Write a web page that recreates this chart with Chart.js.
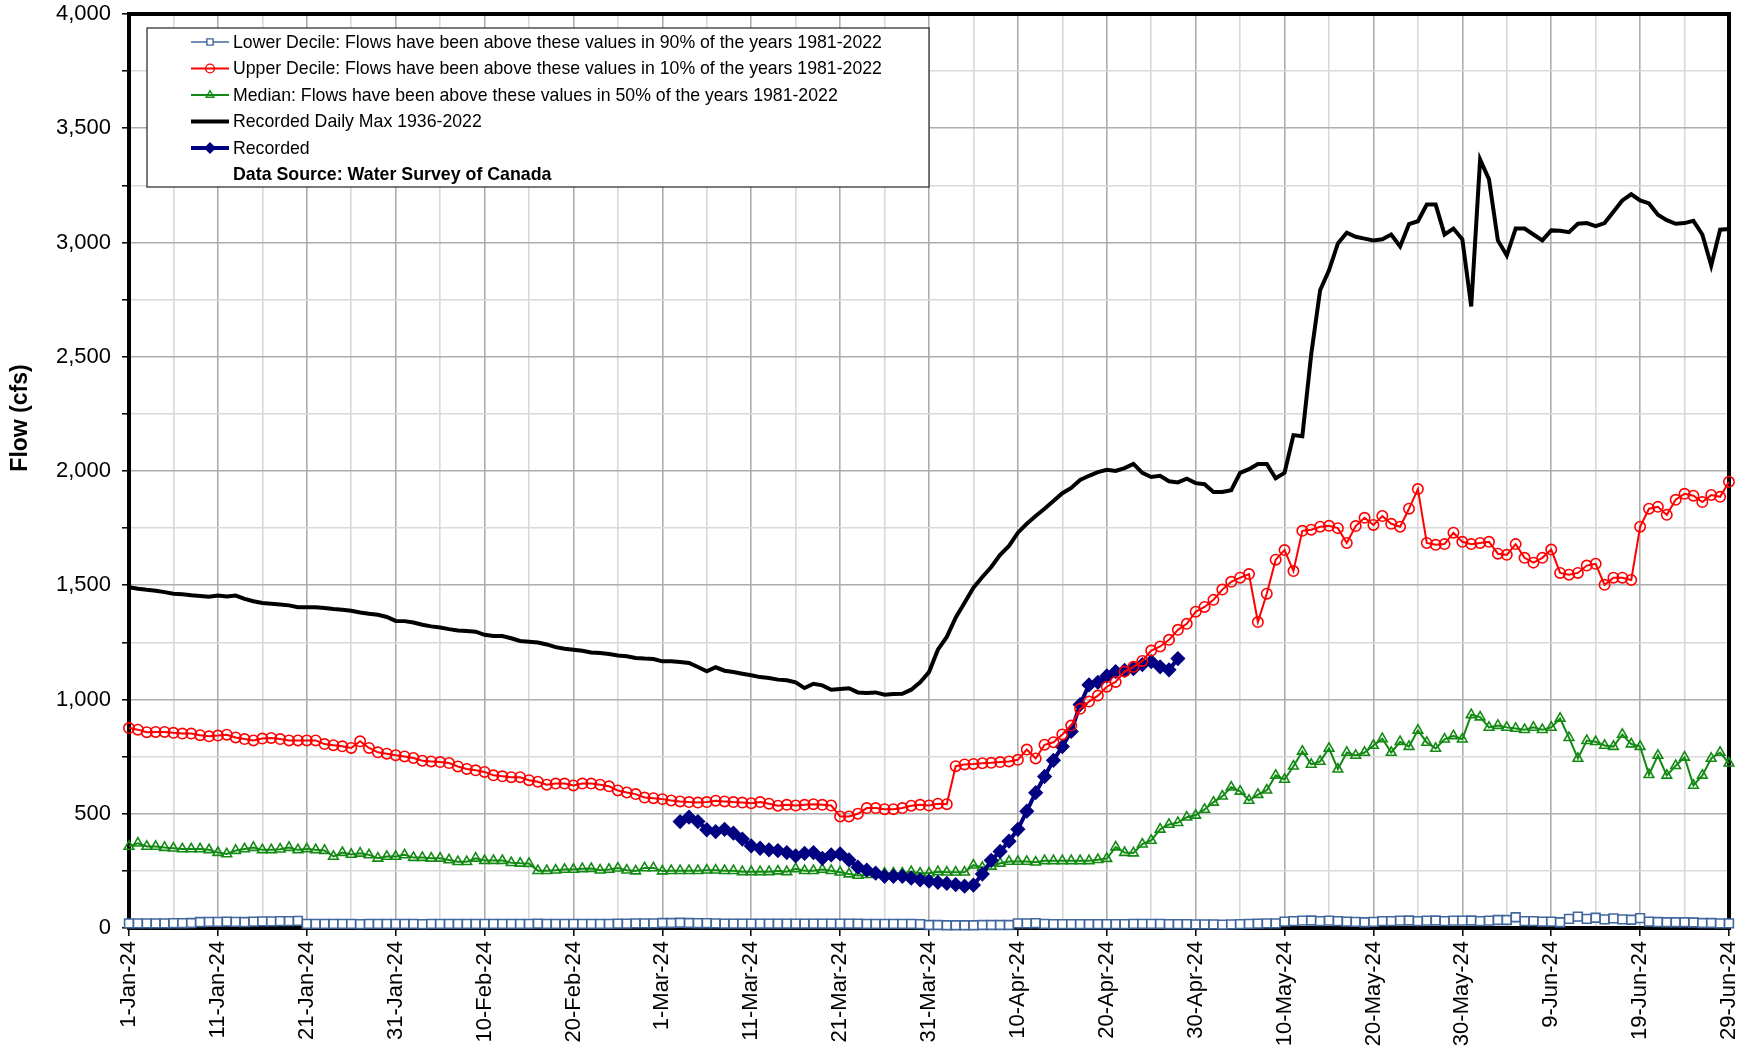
<!DOCTYPE html>
<html>
<head>
<meta charset="utf-8">
<script src="https://cdn.jsdelivr.net/npm/chart.js"></script>
<style>
  html, body { margin: 0; padding: 0; background: #fff; }
  #wrap { width: 1743px; height: 1046px; position: relative; }
</style>
</head>
<body>
<div id="wrap"><canvas id="flowChart"></canvas></div>
<script>
// x axis labels, one every 10 days from 1-Jan to 29-Jun
const tickLabels = ['1-Jan-24', '11-Jan-24', '21-Jan-24', '31-Jan-24', '10-Feb-24', '20-Feb-24',
  '1-Mar-24', '11-Mar-24', '21-Mar-24', '31-Mar-24', '10-Apr-24', '20-Apr-24', '30-Apr-24',
  '10-May-24', '20-May-24', '30-May-24', '9-Jun-24', '19-Jun-24', '29-Jun-24'];

const seriesNames = [
  'Lower Decile: Flows have been above these values in 90% of the years 1981-2022',
  'Upper Decile: Flows have been above these values in 10% of the years 1981-2022',
  'Median: Flows have been above these values in 50% of the years 1981-2022',
  'Recorded Daily Max 1936-2022',
  'Recorded'
];
const sourceNote = 'Data Source: Water Survey of Canada';

// daily flows (cfs), 1-Jan .. 29-Jun
const lowerDecile = [
  20, 20, 20, 20, 20, 21, 21, 22, 26, 27,
  27, 28, 27, 26, 28, 29, 29, 30, 30, 31,
  18, 18, 18, 18, 18, 18, 17, 18, 18, 18,
  18, 18, 18, 17, 18, 18, 18, 18, 18, 18,
  18, 18, 18, 18, 18, 18, 19, 18, 18, 18,
  18, 18, 18, 18, 18, 19, 19, 20, 20, 20,
  22, 22, 23, 22, 21, 21, 20, 19, 19, 19,
  19, 19, 19, 19, 19, 19, 19, 19, 19, 19,
  19, 19, 19, 18, 18, 18, 18, 18, 18, 17,
  13, 13, 12, 12, 12, 12, 13, 13, 13, 13,
  20, 20, 21, 18, 17, 17, 17, 17, 17, 17,
  17, 17, 17, 18, 18, 18, 18, 17, 17, 17,
  16, 16, 16, 15, 16, 17, 18, 19, 20, 20,
  28, 30, 32, 33, 30, 32, 30, 28, 27, 25,
  27, 30, 30, 32, 33, 30, 32, 33, 30, 32,
  32, 33, 30, 32, 35, 35, 47, 30, 30, 28,
  28, 25, 40, 50, 40, 45, 38, 42, 38, 36,
  43, 28, 26, 25, 25, 25, 24, 22, 22, 20,
  20
];

const upperDecile = [
  875, 868, 857, 858, 858, 854, 851, 851, 844, 839,
  842, 846, 834, 827, 821, 829, 832, 827, 821, 821,
  821, 821, 805, 800, 795, 788, 817, 788, 769, 763,
  756, 751, 744, 732, 729, 726, 722, 707, 696, 690,
  683, 668, 664, 660, 660, 647, 640, 627, 632, 632,
  624, 632, 632, 627, 620, 602, 593, 586, 571, 568,
  564, 558, 554, 551, 549, 551, 557, 554, 551, 549,
  546, 551, 544, 535, 539, 536, 539, 542, 539, 536,
  488, 488, 500, 525, 525, 520, 520, 525, 535, 539,
  536, 544, 542, 708, 716, 718, 721, 723, 726, 729,
  736, 781, 742, 802, 813, 847, 886, 959, 991, 1017,
  1056, 1077, 1122, 1143, 1169, 1214, 1232, 1261, 1305, 1331,
  1384, 1405, 1436, 1481, 1515, 1533, 1549, 1339, 1463, 1612,
  1654, 1562, 1738, 1743, 1756, 1760, 1750, 1685, 1759, 1795,
  1764, 1803, 1769, 1756, 1835, 1921, 1685, 1677, 1680, 1730,
  1690, 1680, 1685, 1690, 1638, 1633, 1680, 1620, 1599, 1620,
  1656, 1554, 1546, 1554, 1586, 1594, 1502, 1533, 1533, 1523,
  1756, 1835, 1843, 1808, 1874, 1900, 1892, 1864, 1895, 1887,
  1953
];

const median = [
  357, 371, 357, 357, 352, 349, 346, 346, 346, 342,
  330, 324, 339, 346, 352, 342, 342, 345, 352, 342,
  346, 342, 339, 313, 330, 322, 327, 320, 305, 313,
  313, 320, 308, 308, 305, 305, 298, 290, 290, 305,
  295, 295, 295, 286, 283, 282, 251, 251, 253, 256,
  256, 259, 260, 253, 256, 262, 253, 249, 263, 263,
  249, 251, 251, 251, 251, 253, 253, 251, 251, 246,
  246, 246, 246, 249, 246, 259, 251, 251, 256, 251,
  244, 236, 230, 233, 236, 240, 240, 240, 246, 240,
  240, 246, 244, 244, 244, 275, 265, 270, 283, 291,
  291, 291, 288, 294, 294, 294, 294, 294, 294, 299,
  304, 354, 330, 328, 367, 383, 432, 453, 461, 485,
  493, 519, 550, 577, 616, 598, 558, 584, 603, 668,
  650, 708, 773, 716, 729, 786, 695, 768, 755, 768,
  799, 828, 768, 815, 794, 865, 812, 786, 826, 841,
  826, 933, 923, 878, 886, 878, 873, 868, 878, 868,
  878, 917, 833, 742, 820, 815, 799, 794, 847, 805,
  794, 671, 755, 668, 710, 747, 624, 668, 742, 768,
  721
];

const dailyMax = [
  1491, 1485, 1480, 1476, 1470, 1463, 1461, 1456, 1453, 1450,
  1455, 1451, 1455, 1440, 1430, 1422, 1419, 1416, 1412, 1404,
  1404, 1404, 1400, 1396, 1393, 1388, 1381, 1375, 1371, 1361,
  1344, 1343, 1337, 1327, 1320, 1315, 1308, 1302, 1300, 1297,
  1283, 1278, 1278, 1268, 1256, 1253, 1249, 1241, 1229, 1222,
  1218, 1213, 1206, 1203, 1199, 1193, 1189, 1182, 1179, 1177,
  1167, 1167, 1164, 1160, 1142, 1123, 1141, 1126, 1120, 1113,
  1106, 1098, 1094, 1087, 1084, 1075, 1050, 1069, 1062, 1043,
  1046, 1049, 1031, 1028, 1031, 1021, 1024, 1025, 1043, 1075,
  1120, 1218, 1274, 1358, 1423, 1489, 1536, 1580, 1633, 1672,
  1730, 1769, 1803, 1835, 1869, 1903, 1926, 1961, 1979, 1995,
  2005, 2000, 2013, 2031, 1992, 1974, 1979, 1955, 1950, 1966,
  1947, 1942, 1908, 1908, 1916, 1992, 2008, 2031, 2031, 1968,
  1992, 2157, 2152, 2511, 2791, 2878, 2996, 3043, 3025, 3017,
  3009, 3014, 3035, 2983, 3080, 3093, 3166, 3166, 3035, 3061,
  3014, 2720, 3363, 3276, 3009, 2943, 3061, 3061, 3035, 3009,
  3053, 3051, 3045, 3082, 3085, 3072, 3085, 3135, 3184, 3211,
  3184, 3171, 3122, 3098, 3082, 3085, 3095, 3035, 2899, 3056,
  3059
];

// recorded flows this year, from 3-Mar (day 62) to 28-Apr
const recordedStart = 62;
const recorded = [
  466, 485, 466, 430, 422, 432, 415, 389, 359, 349,
  342, 339, 330, 316, 327, 330, 305, 320, 324, 298,
  266, 253, 240, 226, 226, 226, 218, 211, 205, 200,
  195, 190, 183, 188, 236, 296, 335, 380, 432, 511,
  592, 663, 734, 794, 860, 978, 1064, 1075, 1103, 1122,
  1127, 1135, 1153, 1166, 1143, 1130, 1179
];

const days = dailyMax.map((_, i) => i);
const recordedSeries = days.map(i =>
  i >= recordedStart && i < recordedStart + recorded.length ? recorded[i - recordedStart] : null);

const FONT = 'Liberation Sans, Arial, sans-serif';
const BLUE = '#41679e', RED = '#ff0000', GREEN = '#138a13', NAVY = '#000080';

const styles = [
  { color: BLUE, width: 1.6, point: 'rect', radius: 6.2, fill: '#ffffff' },
  { color: RED, width: 2, point: 'circle', radius: 5.2, fill: 'rgba(0,0,0,0)' },
  { color: GREEN, width: 2, point: 'triangle', radius: 5.6, fill: 'rgba(0,0,0,0)' },
  { color: '#000000', width: 4, point: false, radius: 0 },
  { color: NAVY, width: 4, point: 'rectRot', radius: 6.5, fill: NAVY }
];

function makeSet(i, data, order) {
  const s = styles[i];
  return {
    label: seriesNames[i],
    data: data,
    order: order,
    borderColor: s.color,
    borderWidth: s.width,
    pointStyle: s.point,
    pointRadius: s.radius,
    pointBorderWidth: 1.6,
    pointBorderColor: s.color,
    pointBackgroundColor: s.fill,
    tension: 0,
    spanGaps: false,
    clip: 10
  };
}

// thick black frame round the plot area
const framePlugin = {
  id: 'frame',
  beforeDatasetsDraw(chart) {
    const a = chart.chartArea, ctx = chart.ctx;
    ctx.save();
    ctx.strokeStyle = '#000';
    ctx.lineWidth = 4;
    ctx.strokeRect(a.left, a.top, a.right - a.left, a.bottom - a.top);
    ctx.restore();
  }
};

// boxed legend in the top left corner plus the rotated axis title
const legendPlugin = {
  id: 'boxLegend',
  afterDraw(chart) {
    const a = chart.chartArea, ctx = chart.ctx;
    const left = a.left + 18, top = a.top + 14, w = 782, h = 159;
    ctx.save();
    ctx.fillStyle = '#fff';
    ctx.fillRect(left, top, w, h);
    ctx.strokeStyle = '#222';
    ctx.lineWidth = 1.2;
    ctx.strokeRect(left, top, w, h);

    ctx.textBaseline = 'middle';
    ctx.textAlign = 'left';
    for (let i = 0; i <= seriesNames.length; i++) {
      const y = top + 14 + i * 26.5;
      if (i === seriesNames.length) {
        ctx.fillStyle = '#000';
        ctx.font = 'bold 17.8px ' + FONT;
        ctx.fillText(sourceNote, left + 86, y + 1);
        break;
      }
      const s = styles[i];
      ctx.strokeStyle = s.color;
      ctx.lineWidth = s.width;
      ctx.beginPath();
      ctx.moveTo(left + 44, y);
      ctx.lineTo(left + 82, y);
      ctx.stroke();
      if (s.point) {
        ctx.fillStyle = s.fill;
        ctx.strokeStyle = s.color;
        ctx.lineWidth = 1.4;
        Chart.helpers.drawPoint(ctx, {
          pointStyle: s.point, radius: s.point === 'rectRot' ? 5 : 4.4, rotation: 0, borderWidth: 1.4
        }, left + 63, y);
      }
      ctx.fillStyle = '#000';
      ctx.font = '17.7px ' + FONT;
      ctx.fillText(seriesNames[i], left + 86, y + 1);
    }

    ctx.translate(21, 418);
    ctx.rotate(-Math.PI / 2);
    ctx.textAlign = 'center';
    ctx.font = 'bold 23px ' + FONT;
    ctx.fillStyle = '#000';
    ctx.fillText('Flow (cfs)', 0, 0);
    ctx.restore();
  }
};

new Chart(document.getElementById('flowChart'), {
  type: 'line',
  data: {
    labels: days,
    datasets: [
      makeSet(0, lowerDecile, 4),
      makeSet(1, upperDecile, 0),
      makeSet(2, median, 2),
      makeSet(3, dailyMax, 3),
      makeSet(4, recordedSeries, 1)
    ]
  },
  options: {
    responsive: true,
    maintainAspectRatio: false,
    animation: false,
    devicePixelRatio: 1,
    layout: { padding: { top: 14, right: 14, left: 0, bottom: 0 } },
    plugins: { legend: { display: false }, tooltip: { enabled: false } },
    scales: {
      x: {
        type: 'category',
        border: { display: false },
        grid: {
          lineWidth: 1.6,
          color: c => c.index % 10 === 0 ? '#adadad' : (c.index % 5 === 0 ? '#d9d9d9' : 'rgba(0,0,0,0)'),
          tickLength: 8,
          tickWidth: 1.5,
          tickColor: c => c.index % 10 === 0 ? '#000' : 'rgba(0,0,0,0)'
        },
        ticks: {
          autoSkip: false,
          minRotation: 90,
          maxRotation: 90,
          padding: 5,
          color: '#000',
          font: { family: FONT, size: 22 },
          callback: (v, i) => i % 10 === 0 ? tickLabels[i / 10] : ''
        },
        afterFit: s => { s.height = 118; s.paddingLeft = 0; s.paddingRight = 0; }
      },
      y: {
        min: 0,
        max: 4000,
        border: { display: false },
        grid: {
          lineWidth: 1.6,
          color: c => c.tick.value % 500 === 0 ? '#adadad' : '#d9d9d9',
          tickLength: 7,
          tickWidth: 1.5,
          tickColor: '#000'
        },
        ticks: {
          stepSize: 250,
          padding: 11,
          color: '#000',
          font: { family: FONT, size: 22 },
          callback: v => v % 500 === 0 ? v.toLocaleString('en-US') : ''
        },
        afterFit: s => { s.width = 129; s.paddingTop = 0; s.paddingBottom = 0; }
      }
    }
  },
  plugins: [framePlugin, legendPlugin]
});
</script>
</body>
</html>
